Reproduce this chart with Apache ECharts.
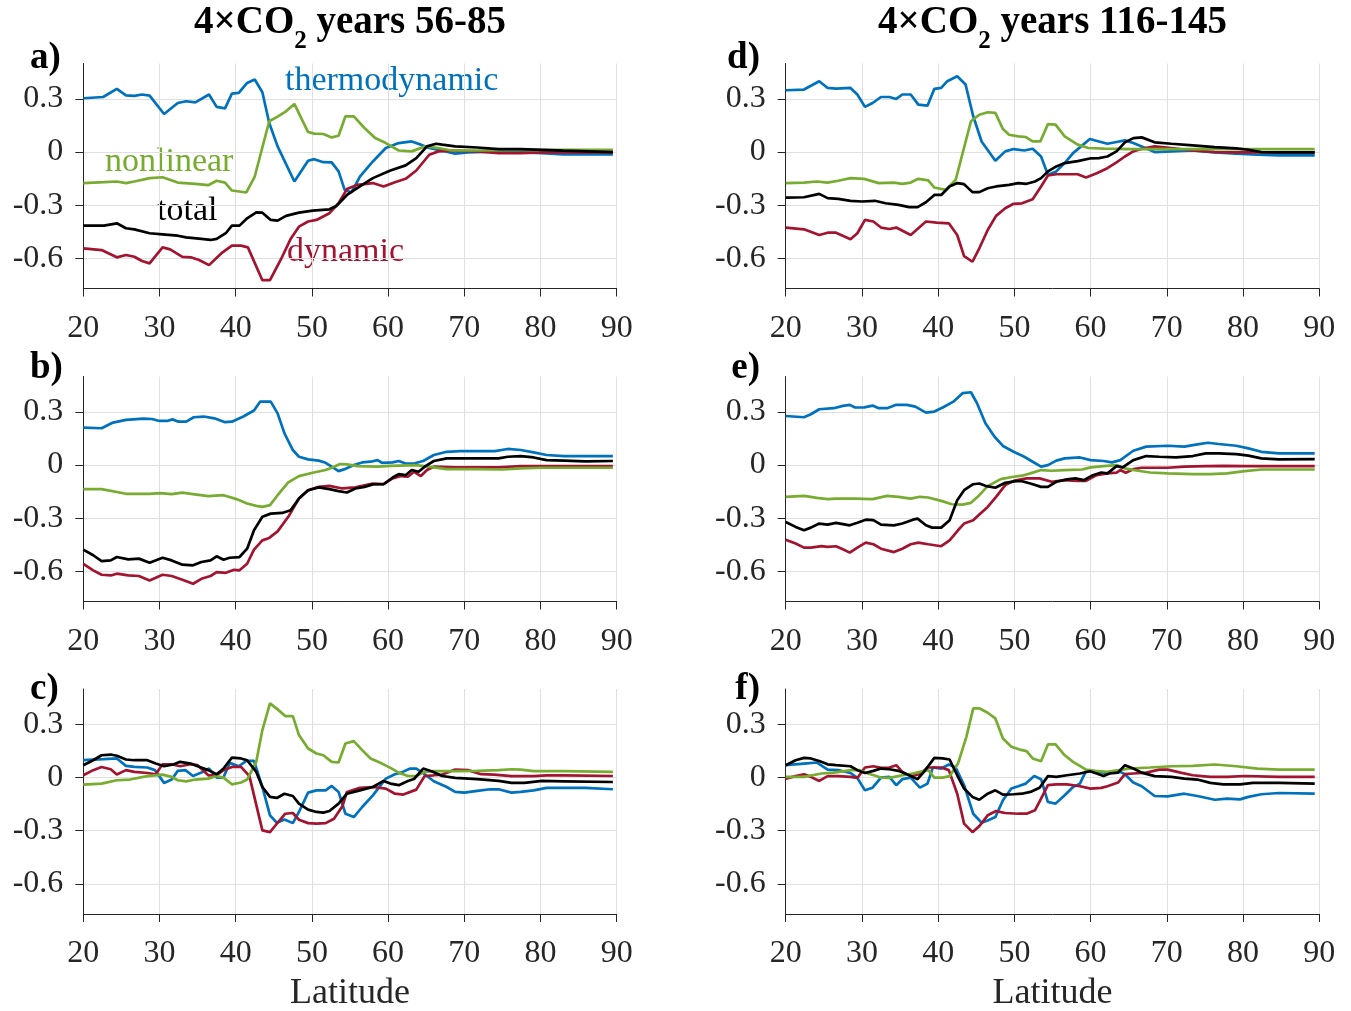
<!DOCTYPE html>
<html><head><meta charset="utf-8">
<script src="https://cdn.jsdelivr.net/npm/echarts@6/dist/echarts.min.js"></script>
<style>html,body{margin:0;padding:0;background:#fff}#c{width:1351px;height:1011px}</style>
</head><body><div id="c"></div><script>
// ---- data: [latitude, value] ----
const a_thermo = [[20,0.304],[22.6,0.311],[24.4,0.357],[25.6,0.32],[26.7,0.317],[27.7,0.325],[28.7,0.319],[30.6,0.215],[32.4,0.277],[33.5,0.287],[34.7,0.281],[36.5,0.325],[37.5,0.255],[38.6,0.247],[39.5,0.33],[40.4,0.334],[41.5,0.39],[42.5,0.41],[43.5,0.338],[44.4,0.164],[45.5,0.032],[47.7,-0.166],[49.5,-0.049],[50.3,-0.04],[51.5,-0.057],[52.6,-0.058],[53.5,-0.109],[54.3,-0.213],[55.2,-0.228],[56.3,-0.138],[58,-0.053],[59.7,0.023],[61.4,0.051],[63.1,0.06],[64.3,0.042],[65.4,0.023],[67.1,0.008],[68.8,-0.009],[70.5,-0.002],[74.5,0.004],[80.2,-0.006],[83,-0.013],[89.5,-0.013]];
const a_dyn = [[20,-0.543],[22.4,-0.553],[24.4,-0.594],[25.6,-0.581],[26.7,-0.591],[27.7,-0.615],[28.7,-0.628],[30.4,-0.538],[31.4,-0.549],[33,-0.591],[34.1,-0.594],[35.2,-0.609],[36.5,-0.638],[38.1,-0.572],[39.5,-0.528],[40.7,-0.528],[41.6,-0.538],[43.5,-0.723],[44.5,-0.723],[46.1,-0.591],[47.2,-0.491],[48.3,-0.421],[49.5,-0.392],[50.6,-0.383],[52.3,-0.345],[53.5,-0.289],[54.6,-0.209],[56,-0.185],[58,-0.175],[59.4,-0.194],[60.9,-0.17],[62.3,-0.151],[63.7,-0.104],[65.4,-0.015],[66.6,0.004],[68.3,0.008],[71.7,0.004],[74.5,-0.006],[77.4,-0.006],[80.2,-0.002],[89.5,-0.002]];
const a_nonlin = [[20,-0.175],[22.7,-0.17],[24.4,-0.166],[25.6,-0.175],[26.7,-0.166],[28.7,-0.147],[30.4,-0.142],[32.4,-0.172],[34.7,-0.179],[36.4,-0.187],[37.5,-0.162],[38.6,-0.172],[39.5,-0.217],[41.4,-0.228],[42.5,-0.138],[44.4,0.174],[45.5,0.2],[46.6,0.23],[47.7,0.272],[48.6,0.192],[49.5,0.113],[50.3,0.104],[51.5,0.102],[52.6,0.083],[53.5,0.092],[54.4,0.202],[55.5,0.202],[56.9,0.136],[58.3,0.079],[59.7,0.051],[61.4,0.009],[63.1,0.004],[64.8,0.032],[66.6,0.023],[68.3,0.009],[71.7,0.009],[77.4,0.013],[89.5,0.013]];
const a_total = [[20,-0.415],[22.7,-0.415],[24.4,-0.402],[25.6,-0.43],[26.7,-0.436],[28.7,-0.458],[30.4,-0.464],[32.4,-0.472],[33.5,-0.481],[35.5,-0.49],[36.7,-0.496],[37.5,-0.49],[38.7,-0.458],[39.5,-0.415],[40.5,-0.415],[41.5,-0.374],[42.7,-0.34],[43.5,-0.342],[44.6,-0.383],[45.5,-0.387],[46.6,-0.36],[48.3,-0.342],[50.1,-0.33],[52.3,-0.323],[53.2,-0.304],[54.6,-0.242],[56.3,-0.194],[58,-0.147],[60.3,-0.104],[62.3,-0.075],[63.7,-0.034],[65.1,0.032],[66.3,0.047],[67.1,0.042],[68.8,0.032],[71.7,0.026],[74.5,0.017],[77.4,0.017],[80.2,0.013],[83,0.008],[89.5,0]];

const b_thermo = [[20,0.211],[22.4,0.208],[23.9,0.24],[25.6,0.255],[27.9,0.262],[29,0.26],[30,0.249],[31,0.249],[31.7,0.258],[32.5,0.245],[33.5,0.245],[34.5,0.27],[35.8,0.274],[37.2,0.264],[38.6,0.242],[39.5,0.245],[41,0.274],[42.4,0.308],[43.2,0.358],[44.6,0.358],[45.5,0.292],[46.4,0.179],[47.5,0.085],[48.3,0.047],[49.5,0.032],[50.9,0.025],[51.8,0.013],[52.6,-0.009],[53.5,-0.034],[54.3,-0.023],[55.5,0],[56.6,0.015],[57.7,0.019],[58.6,0.028],[59.2,0.013],[60.6,0.015],[61.4,0.023],[62.3,0.009],[63.4,0.009],[64.6,0.023],[66,0.057],[67.7,0.075],[69.4,0.079],[74,0.079],[75.7,0.091],[77.4,0.085],[79.1,0.072],[80.8,0.057],[83.1,0.051],[89.5,0.051]];
const b_dyn = [[20,-0.557],[21.3,-0.594],[22.4,-0.619],[23.6,-0.623],[24.4,-0.613],[25.9,-0.623],[27.3,-0.626],[28.7,-0.651],[30.4,-0.619],[31.6,-0.626],[33,-0.647],[34.4,-0.67],[35.5,-0.642],[36.7,-0.626],[37.5,-0.604],[38.7,-0.608],[39.8,-0.591],[40.5,-0.594],[41.5,-0.557],[42.4,-0.477],[43.5,-0.425],[44.4,-0.411],[45.5,-0.374],[46.9,-0.292],[48.3,-0.189],[49.5,-0.142],[50.9,-0.123],[52.3,-0.117],[54,-0.132],[55.7,-0.126],[58,-0.104],[59.4,-0.108],[60.6,-0.075],[61.7,-0.062],[62.6,-0.066],[63.4,-0.038],[64.3,-0.062],[65.1,-0.028],[66,-0.009],[68.8,-0.013],[74.5,-0.013],[77.4,-0.006],[89.5,-0.006]];
const b_nonlin = [[20,-0.136],[22.4,-0.136],[25.6,-0.162],[28.7,-0.162],[30.1,-0.158],[31.6,-0.164],[33,-0.155],[34.4,-0.164],[36.4,-0.175],[38.4,-0.17],[40.1,-0.192],[41.5,-0.217],[42.7,-0.23],[43.5,-0.236],[44.5,-0.226],[45.5,-0.17],[46.9,-0.098],[48.3,-0.062],[50.1,-0.043],[51.8,-0.028],[52.6,-0.015],[53.7,0.006],[54.6,0.004],[56,-0.006],[58.6,-0.009],[60.3,-0.004],[63.7,0],[66,-0.013],[67.7,-0.023],[71.7,-0.023],[75.1,-0.025],[77.4,-0.019],[80.2,-0.015],[89.5,-0.015]];
const b_total = [[20,-0.477],[21.3,-0.509],[22.4,-0.542],[23.6,-0.538],[24.4,-0.519],[25.9,-0.532],[27.3,-0.528],[28.7,-0.551],[30.4,-0.523],[31.6,-0.538],[33,-0.562],[34.4,-0.566],[35.5,-0.547],[36.7,-0.538],[37.5,-0.515],[38.4,-0.534],[39.2,-0.523],[40.5,-0.519],[41.5,-0.472],[42.4,-0.368],[43.5,-0.292],[44.6,-0.274],[46.1,-0.27],[47.2,-0.255],[48.3,-0.189],[49.5,-0.142],[50.9,-0.126],[52.3,-0.136],[53.5,-0.147],[54.6,-0.155],[55.7,-0.132],[56.9,-0.123],[58,-0.109],[59.4,-0.108],[60.6,-0.07],[61.4,-0.051],[62.3,-0.057],[63.1,-0.028],[64,-0.038],[64.8,-0.009],[66,0.023],[67.7,0.038],[74.5,0.038],[75.7,0.047],[77.4,0.051],[79.1,0.043],[80.8,0.028],[83.1,0.025],[85.9,0.021],[89.5,0.023]];

const c_thermo = [[20,0.098],[22.7,0.104],[24.4,0.108],[25.6,0.066],[26.7,0.06],[28.4,0.057],[29.4,0.042],[30.6,-0.03],[31.6,-0.011],[32.4,0.038],[33.4,0.042],[34.4,0.009],[35.5,0.028],[36.5,0.051],[37.5,0],[38.4,0],[39.2,0.083],[40.4,0.064],[41.4,0.094],[42.4,0.094],[43.5,-0.053],[44.5,-0.213],[45.4,-0.255],[46.4,-0.236],[47.5,-0.257],[48.3,-0.194],[49.5,-0.085],[50.6,-0.072],[51.8,-0.072],[52.6,-0.047],[53.5,-0.081],[54.4,-0.204],[55.5,-0.223],[56.6,-0.166],[58,-0.1],[59.7,-0.006],[60.9,0.019],[61.7,0.028],[62.9,0.051],[63.7,0.051],[64.8,0.019],[66,-0.021],[67.7,-0.053],[68.8,-0.081],[70,-0.085],[71.7,-0.075],[73.4,-0.066],[74.5,-0.066],[76.2,-0.085],[77.4,-0.081],[79.1,-0.072],[80.8,-0.058],[85.9,-0.058],[89.5,-0.066]];
const c_dyn = [[20,0.013],[21.3,0.042],[22.4,0.06],[23.6,0.047],[24.4,0.017],[25.6,0.042],[26.7,0.032],[28.4,0.026],[29.5,0.019],[30.4,0.075],[31.6,0.075],[32.7,0.064],[34.1,0.075],[35,0.07],[36.4,0.013],[37.5,0.013],[38.4,0.042],[39.5,0.06],[40.7,0.06],[41.8,0.008],[43.5,-0.298],[44.5,-0.308],[45.5,-0.255],[46.5,-0.204],[47.5,-0.2],[48.3,-0.238],[49.5,-0.257],[50.6,-0.26],[51.8,-0.257],[52.9,-0.232],[54,-0.162],[54.6,-0.081],[56.3,-0.058],[58,-0.053],[59.7,-0.062],[60.9,-0.091],[62,-0.096],[63.7,-0.068],[64.8,0.009],[66,0.013],[67.1,0.017],[68.8,0.045],[70.5,0.042],[72.2,0.019],[73.9,0.017],[76.2,0.008],[79.1,0.008],[80.8,0.013],[83.1,0.013],[89.5,0.009]];
const c_nonlin = [[20,-0.04],[22.4,-0.034],[24.4,-0.015],[26.1,-0.011],[28.4,0.008],[30.4,0.017],[31.6,0.004],[32.4,-0.015],[33.5,-0.021],[34.7,-0.011],[36.4,-0.006],[37.5,0.009],[38.4,0],[39.5,-0.038],[40.7,-0.028],[41.5,-0.011],[42.7,0.089],[43.5,0.268],[44.5,0.419],[45.5,0.385],[46.5,0.347],[47.5,0.347],[48.3,0.24],[49.5,0.164],[50.6,0.136],[51.5,0.126],[52.6,0.089],[53.5,0.085],[54.4,0.192],[55.5,0.206],[56.6,0.155],[57.7,0.108],[59.2,0.079],[60.3,0.055],[61.4,0.028],[62.6,0.009],[63.7,0.008],[64.8,0.032],[66,0.036],[68.8,0.036],[71.7,0.038],[74.5,0.042],[76.2,0.047],[77.4,0.045],[79.1,0.036],[83.1,0.036],[89.5,0.032]];
const c_total = [[20,0.07],[21.3,0.098],[22.4,0.126],[23.6,0.13],[24.4,0.123],[25.6,0.102],[26.7,0.098],[28.4,0.098],[29.5,0.079],[30.6,0.064],[31.8,0.074],[32.7,0.089],[34.1,0.079],[35,0.064],[36.4,0.042],[37.5,0.019],[38.4,0.051],[39.5,0.113],[40.7,0.108],[41.5,0.098],[42.7,0.032],[43.5,-0.053],[44.5,-0.109],[45.4,-0.115],[46.4,-0.091],[47.5,-0.104],[48.3,-0.147],[49.5,-0.181],[50.6,-0.194],[51.5,-0.198],[52.3,-0.189],[53.5,-0.147],[54.6,-0.091],[56.3,-0.072],[58,-0.053],[59.4,-0.019],[60.3,-0.034],[61.4,-0.043],[62.6,-0.019],[63.4,-0.008],[64.6,0.051],[65.7,0.036],[67.1,0.009],[68.8,-0.002],[71.7,-0.009],[74.5,-0.019],[76.2,-0.03],[77.9,-0.03],[80.2,-0.019],[83.1,-0.021],[89.5,-0.025]];

const d_thermo = [[20,0.349],[22.4,0.353],[24.4,0.4],[25.5,0.362],[26.6,0.358],[28.5,0.362],[29.4,0.325],[30.4,0.255],[31.4,0.277],[32.5,0.311],[33.6,0.311],[34.5,0.3],[35.3,0.325],[36.4,0.325],[37.4,0.268],[38.6,0.262],[39.5,0.357],[40.4,0.362],[41.2,0.4],[42.5,0.428],[43.6,0.381],[44.6,0.202],[45.7,0.06],[47.5,-0.049],[48.8,0.004],[49.9,0.017],[51.3,0.009],[52.4,0.019],[53.5,-0.025],[54.4,-0.128],[55.5,-0.109],[56.6,-0.062],[57.7,-0.006],[59.9,0.074],[61.1,0.06],[62.2,0.047],[63.4,0.057],[64.5,0.066],[65.6,0.051],[66.7,0.032],[68.4,0],[70.6,0.004],[73.4,0.009],[76.3,-0.002],[79.1,-0.009],[81.9,-0.015],[84.7,-0.019],[89.4,-0.019]];
const d_dyn = [[20,-0.426],[22.4,-0.436],[24.4,-0.468],[25.5,-0.455],[26.6,-0.455],[28.5,-0.492],[29.4,-0.458],[30.4,-0.383],[31.5,-0.392],[32.5,-0.426],[33.6,-0.434],[34.5,-0.426],[36.4,-0.468],[38.4,-0.392],[39.8,-0.398],[41.4,-0.402],[42.5,-0.468],[43.4,-0.587],[44.5,-0.619],[45.4,-0.543],[46.5,-0.44],[47.6,-0.36],[48.8,-0.317],[49.9,-0.292],[51,-0.289],[52.4,-0.266],[53.5,-0.194],[54.4,-0.132],[55.5,-0.125],[58.3,-0.125],[59.4,-0.143],[60.8,-0.119],[62.2,-0.091],[63.4,-0.058],[64.5,-0.025],[65.6,0.004],[66.7,0.019],[68.4,0.032],[70.6,0.023],[73.4,0.009],[76.3,0],[79.1,-0.002],[89.4,-0.002]];
const d_nonlin = [[20,-0.175],[22.4,-0.172],[24.1,-0.166],[25.5,-0.172],[26.9,-0.162],[28.5,-0.147],[30.3,-0.151],[32.2,-0.175],[34.2,-0.172],[35.3,-0.179],[36.4,-0.172],[37.4,-0.151],[38.7,-0.16],[39.5,-0.2],[41,-0.213],[42.3,-0.157],[44.3,0.174],[45.4,0.211],[46.5,0.225],[47.5,0.221],[48.5,0.13],[49.3,0.098],[50.5,0.089],[51.5,0.085],[52.4,0.06],[53.4,0.06],[54.4,0.158],[55.4,0.155],[56.6,0.089],[58.3,0.042],[59.7,0.023],[61.7,0.019],[65,0.017],[89.4,0.017]];
const d_total = [[20,-0.257],[22.4,-0.255],[24.4,-0.236],[25.5,-0.26],[26.9,-0.264],[28.5,-0.275],[30,-0.279],[31.7,-0.275],[33.1,-0.289],[34.8,-0.298],[36.2,-0.311],[37.3,-0.311],[38.4,-0.283],[39.5,-0.242],[40.4,-0.242],[41.5,-0.194],[42.5,-0.175],[43.4,-0.181],[44.5,-0.226],[45.4,-0.226],[46.5,-0.204],[47.6,-0.194],[49.3,-0.185],[50.5,-0.175],[51.6,-0.179],[52.7,-0.166],[53.5,-0.147],[54.4,-0.109],[55.5,-0.081],[56.6,-0.062],[58.3,-0.051],[59.9,-0.036],[61.1,-0.034],[62.2,-0.025],[63.4,0.004],[64.5,0.055],[65.6,0.079],[66.7,0.083],[68.4,0.055],[70.6,0.047],[73.4,0.038],[76.3,0.028],[79.1,0.021],[80.7,0.013],[82.4,0],[84.7,-0.002],[89.4,-0.002]];

const e_thermo = [[20,0.277],[22.4,0.27],[23.3,0.287],[24.4,0.315],[26.3,0.321],[27.5,0.334],[28.4,0.34],[29.1,0.325],[30.3,0.326],[31.4,0.336],[32.2,0.321],[33.3,0.321],[34.5,0.34],[35.9,0.34],[37,0.33],[38.4,0.296],[39.5,0.302],[40.6,0.325],[42,0.358],[43.2,0.406],[44.3,0.411],[45.1,0.349],[46.2,0.236],[47.4,0.16],[48.5,0.108],[49.9,0.075],[51.3,0.047],[52.4,0.019],[53.5,-0.009],[54.4,0],[55.5,0.025],[56.6,0.038],[58.6,0.043],[60,0.028],[61.7,0.023],[62.8,0.015],[63.9,0.028],[65.6,0.081],[67.3,0.104],[70.1,0.109],[72.3,0.104],[74,0.117],[75.4,0.126],[76.8,0.119],[79.1,0.109],[80.7,0.094],[82.4,0.075],[84.7,0.066],[89.4,0.066]];
const e_dyn = [[20,-0.421],[21.3,-0.443],[22.4,-0.466],[23.3,-0.466],[24.7,-0.457],[25.5,-0.462],[26.6,-0.458],[27.5,-0.475],[28.4,-0.494],[29.4,-0.466],[30.5,-0.438],[31.5,-0.447],[32.5,-0.472],[34.2,-0.491],[35.3,-0.472],[36.4,-0.447],[37.4,-0.438],[38.7,-0.447],[40.4,-0.458],[41.5,-0.425],[42.6,-0.368],[43.4,-0.33],[44.6,-0.311],[45.4,-0.279],[46.5,-0.236],[47.6,-0.179],[48.8,-0.113],[49.9,-0.089],[51.6,-0.075],[53.3,-0.075],[54.9,-0.094],[56.6,-0.085],[58.3,-0.089],[59.4,-0.089],[60.8,-0.057],[62.2,-0.047],[63.4,-0.043],[63.9,-0.028],[64.6,-0.043],[65.6,-0.023],[66.7,-0.015],[70.1,-0.015],[72.3,-0.009],[75.1,-0.006],[77.4,-0.004],[80.7,-0.006],[89.4,-0.006]];
const e_nonlin = [[20,-0.179],[22.4,-0.174],[24.1,-0.185],[25.5,-0.192],[26.6,-0.189],[29.1,-0.189],[31.4,-0.192],[33.3,-0.174],[34.8,-0.179],[36.4,-0.189],[37.6,-0.179],[38.7,-0.183],[40.4,-0.202],[41.8,-0.221],[43.2,-0.223],[44.3,-0.213],[45.4,-0.17],[46.5,-0.119],[48.2,-0.079],[49.9,-0.066],[51,-0.06],[52.1,-0.047],[53.5,-0.028],[54.9,-0.032],[56.6,-0.028],[58.9,-0.025],[60,-0.013],[61.7,-0.006],[63.4,0],[64.5,-0.019],[66.2,-0.032],[67.8,-0.042],[70.1,-0.047],[73.4,-0.051],[75.7,-0.051],[77.9,-0.047],[80.2,-0.034],[82.4,-0.025],[89.4,-0.025]];
const e_total = [[20,-0.321],[21.3,-0.349],[22.4,-0.368],[23.3,-0.353],[24.4,-0.33],[25.5,-0.336],[26.6,-0.326],[28.4,-0.34],[29.4,-0.325],[30.5,-0.308],[31.5,-0.311],[32.5,-0.336],[34.2,-0.34],[35.3,-0.33],[36.7,-0.308],[37.3,-0.302],[38.4,-0.34],[39.2,-0.353],[40.4,-0.353],[41.5,-0.311],[42.5,-0.198],[43.4,-0.142],[44.6,-0.108],[45.4,-0.104],[46.2,-0.117],[47.5,-0.128],[48.8,-0.1],[50.2,-0.091],[51,-0.091],[52.1,-0.104],[53.5,-0.123],[54.4,-0.123],[55.5,-0.094],[56.9,-0.081],[58,-0.075],[59.1,-0.085],[60.3,-0.057],[61.4,-0.042],[62.2,-0.047],[63.4,-0.006],[64.2,-0.013],[65.6,0.028],[67.3,0.051],[69,0.047],[71.2,0.043],[73.4,0.051],[75.1,0.066],[76.8,0.066],[79.1,0.062],[80.7,0.053],[82.4,0.038],[84.7,0.032],[89.4,0.034]];

const f_thermo = [[20,0.07],[22.4,0.079],[24.1,0.085],[25.5,0.045],[26.9,0.042],[28.5,0.026],[29.4,-0.002],[30.4,-0.072],[31.4,-0.057],[32.5,0],[33.6,0.004],[34.5,-0.043],[35.3,-0.009],[36.4,0],[37.6,-0.057],[38.6,-0.034],[39.3,0.057],[40.4,0.051],[41.4,0.074],[42.3,0.057],[43.4,-0.043],[44.6,-0.204],[45.7,-0.255],[46.5,-0.242],[47.5,-0.223],[48.5,-0.128],[49.6,-0.062],[50.5,-0.049],[51.5,-0.034],[52.6,0.009],[53.5,-0.009],[54.4,-0.138],[55.4,-0.147],[56.6,-0.1],[57.7,-0.053],[58.6,-0.034],[59.4,0.038],[60.6,0.032],[62.2,0.026],[63.9,0.032],[64.5,0.019],[65.6,-0.028],[66.7,-0.049],[68.4,-0.104],[70.1,-0.106],[72.3,-0.091],[74,-0.104],[76.3,-0.125],[77.9,-0.119],[79.6,-0.123],[80.7,-0.109],[82.4,-0.094],[84.7,-0.087],[89.4,-0.091]];
const f_dyn = [[20,-0.006],[21.3,0.008],[22.4,0.019],[23.3,0.004],[24.4,-0.019],[25.5,0.008],[26.9,0.008],[28.5,0.004],[29.4,-0.002],[30.4,0.057],[31.5,0.064],[32.5,0.055],[33.6,0.057],[34.5,0.07],[35.3,0.032],[36.4,0.008],[37.6,0.019],[38.6,0.057],[40.4,0.057],[41.4,0.042],[42.5,-0.091],[43.4,-0.26],[44.5,-0.308],[45.4,-0.274],[46.5,-0.213],[47.6,-0.189],[48.8,-0.2],[50.5,-0.204],[51.6,-0.204],[52.7,-0.185],[53.5,-0.119],[54.4,-0.043],[55.5,-0.038],[56.9,-0.038],[58.6,-0.049],[60,-0.062],[61.4,-0.058],[62.2,-0.049],[63.6,-0.028],[64.5,0.019],[65.6,0.023],[67.3,0.028],[69,0.045],[70.1,0.045],[71.8,0.028],[73.4,0.013],[75.7,0.004],[77.9,0.004],[80.2,0.009],[84.7,0.004],[89.4,0.004]];
const f_nonlin = [[20,0.004],[22.4,0.004],[24.7,0.023],[26.3,0.028],[28.6,0.042],[29.7,0.042],[30.8,0.023],[32.5,0],[33.6,-0.002],[35.3,0.013],[36.7,0.023],[37.6,0.032],[38.7,0.042],[39.5,0],[40.6,0],[41.5,0.008],[42.6,0.079],[43.7,0.23],[44.6,0.391],[45.4,0.391],[46.5,0.366],[47.5,0.334],[48.5,0.221],[49.6,0.174],[50.7,0.158],[51.6,0.149],[52.4,0.108],[53.5,0.092],[54.4,0.187],[55.4,0.187],[56.6,0.126],[57.7,0.089],[59.4,0.045],[60.6,0.038],[62.2,0.032],[65,0.051],[67.8,0.057],[70.6,0.064],[73.4,0.066],[76.3,0.074],[79.1,0.064],[81.9,0.051],[84.7,0.045],[89.4,0.045]];
const f_total = [[20,0.07],[21.3,0.098],[22.4,0.111],[23.3,0.108],[24.4,0.094],[25.5,0.075],[26.6,0.07],[28.5,0.064],[29.4,0.042],[30.4,0.026],[31.5,0.038],[32.5,0.051],[33.6,0.047],[34.8,0.038],[36.2,0.013],[37.3,-0.009],[38.4,0.047],[39.5,0.111],[40.6,0.108],[41.5,0.102],[42.5,0.013],[43.4,-0.062],[44.5,-0.109],[45.4,-0.125],[46.5,-0.091],[47.5,-0.072],[48.5,-0.096],[49.9,-0.094],[51,-0.091],[52.1,-0.081],[53.3,-0.057],[54.4,0.008],[55.5,0.004],[56.9,0.013],[58.6,0.023],[59.9,0.036],[60.8,0.023],[61.7,0.009],[62.5,0.023],[63.6,0.028],[64.5,0.07],[65.6,0.051],[66.7,0.028],[68.4,0.008],[70.6,0.004],[72.3,-0.006],[74,-0.011],[75.7,-0.03],[77.4,-0.038],[79.6,-0.038],[81.3,-0.03],[84.7,-0.03],[89.4,-0.034]];

const yTicks = [-0.6, -0.3, 0, 0.3];
const panelLetters = ['a)', 'b)', 'c)', 'd)', 'e)', 'f)'];
const columnTitles = ['56-85', '116-145'];
const seriesNames = ['thermodynamic', 'dynamic', 'nonlinear', 'total'];
const panels = [
  [a_thermo, a_dyn, a_nonlin, a_total],
  [b_thermo, b_dyn, b_nonlin, b_total],
  [c_thermo, c_dyn, c_nonlin, c_total],
  [d_thermo, d_dyn, d_nonlin, d_total],
  [e_thermo, e_dyn, e_nonlin, e_total],
  [f_thermo, f_dyn, f_nonlin, f_total]
];

// ---- styling / layout ----
const COLORS = ['#0072BD', '#A2142F', '#77AC30', '#000000'];
const FONT = "'Liberation Serif','Times New Roman',serif";
const AX = '#262626';
const colLeft = [83.3, 785.7], colW = [533.4, 533.6];
const rowTop = [63.5, 376.5, 689], rowH = 225;

const grid = [], xAxis = [], yAxis = [], series = [];
panels.forEach((p, i) => {
  const col = Math.floor(i / 3), row = i % 3;
  grid.push({left: colLeft[col], top: rowTop[row], width: colW[col], height: rowH, containLabel: false});
  xAxis.push({
    type: 'value', gridIndex: i, min: 20, max: 90, interval: 10,
    axisLine: {show: true, onZero: false, lineStyle: {color: AX, width: 1}},
    axisTick: {show: true, inside: false, length: 8, lineStyle: {color: AX, width: 1}},
    axisLabel: {fontFamily: FONT, fontSize: 32, color: AX, margin: 24},
    splitLine: {show: true, lineStyle: {color: '#e0e0e0', width: 1}}
  });
  yAxis.push({
    type: 'value', gridIndex: i, min: -0.77, max: 0.5,
    axisLine: {show: true, onZero: false, lineStyle: {color: AX, width: 1}},
    axisTick: {show: true, inside: false, length: 8, customValues: yTicks, lineStyle: {color: AX, width: 1}},
    axisLabel: {fontFamily: FONT, fontSize: 32, color: AX, margin: 20, customValues: yTicks,
      formatter: v => String(Math.round(v * 10) / 10)},
    splitLine: {show: true, lineStyle: {color: '#e0e0e0', width: 1}}
  });
  p.forEach((d, k) => {
    series.push({
      type: 'line', name: seriesNames[k], xAxisIndex: i, yAxisIndex: i, data: d,
      showSymbol: false, symbol: 'none', animation: false,
      lineStyle: {color: COLORS[k], width: 2.7}, z: 2 + k
    });
  });
});

// measure title pieces so the subscript sits right after "CO"
const ctx = document.createElement('canvas').getContext('2d');
function tw(txt, size) { ctx.font = 'bold ' + size + 'px ' + FONT; return ctx.measureText(txt).width; }
const TS = 39, SS = 25;

const graphic = [];
columnTitles.forEach((t, col) => {
  const p1 = '4×CO', p2 = '2', p3 = ' years ' + t;
  const w1 = tw(p1, TS), w2 = tw(p2, SS), w3 = tw(p3, TS);
  const x0 = colLeft[col] + colW[col] / 2 - (w1 + w2 + w3) / 2;
  const base = {fontFamily: FONT, fontWeight: 'bold', fill: '#000', align: 'left', verticalAlign: 'middle'};
  graphic.push({type: 'text', x: x0, y: 22.5, style: Object.assign({text: p1, fontSize: TS}, base)});
  graphic.push({type: 'text', x: x0 + w1, y: 41.5, style: Object.assign({text: p2, fontSize: SS}, base)});
  graphic.push({type: 'text', x: x0 + w1 + w2, y: 22.5, style: Object.assign({text: p3, fontSize: TS}, base)});
});
// panel letters
const letterY = [58, 368, 689];
panelLetters.forEach((l, i) => {
  const col = Math.floor(i / 3), row = i % 3;
  graphic.push({
    type: 'text', x: col === 0 ? 30 : 760, y: letterY[row],
    style: {text: l, fontFamily: FONT, fontSize: 37, fontWeight: 'bold', fill: '#000',
      align: col === 0 ? 'left' : 'right', verticalAlign: 'middle'}
  });
});
// x labels
[0, 1].forEach(col => {
  graphic.push({
    type: 'text', x: colLeft[col] + colW[col] / 2, y: 994,
    style: {text: 'Latitude', fontFamily: FONT, fontSize: 36, fill: AX, align: 'center', verticalAlign: 'middle'}
  });
});
// inline series labels (panel a)
const labelPos = [[285, 81], [287, 252], [105, 162], [157, 211]];
seriesNames.forEach((n, k) => {
  graphic.push({
    type: 'text', x: labelPos[k][0], y: labelPos[k][1],
    style: {text: n, fontFamily: FONT, fontSize: 34, fill: COLORS[k], align: 'left', verticalAlign: 'middle'}
  });
});

const chart = echarts.init(document.getElementById('c'), null, {renderer: 'canvas'});
chart.setOption({animation: false, backgroundColor: '#fff', grid, xAxis, yAxis, series, graphic});
</script></body></html>
